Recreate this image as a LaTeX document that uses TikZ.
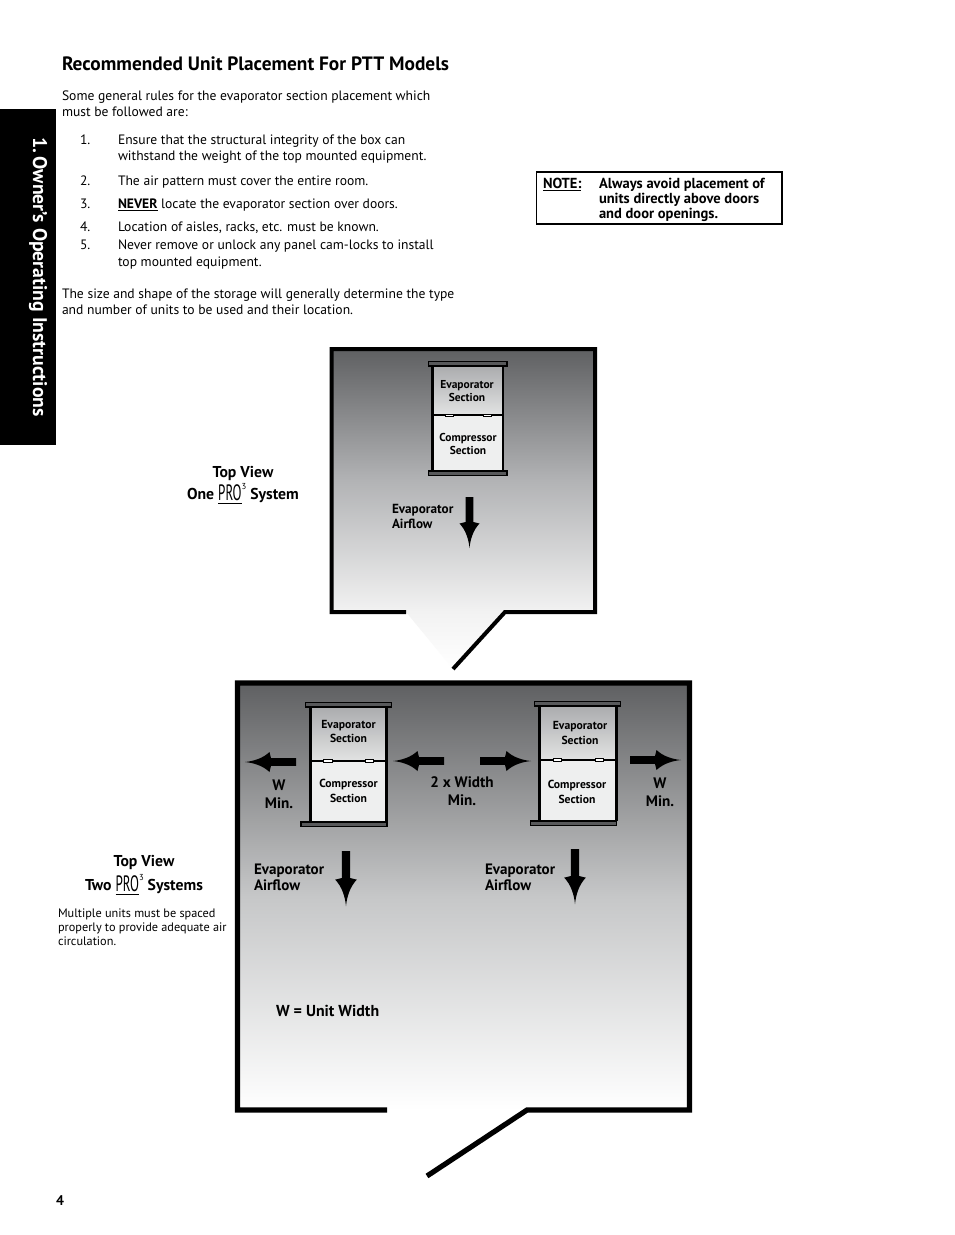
\documentclass[tikz,border=0pt]{standalone}
\usepackage{fontspec}
\usepackage{graphicx}
\setmainfont{PT Sans}
\definecolor{roomtop}{HTML}{5F6062}
\definecolor{roomamid}{HTML}{B2B3B5}
\definecolor{roombmid}{HTML}{C6C7C8}
\definecolor{barfill}{HTML}{58595B}
\definecolor{evaptop}{HTML}{ABACAE}
\definecolor{evapbot}{HTML}{E2E3E3}
\definecolor{compfill}{HTML}{EEEFEF}
\newcommand{\fsz}[2]{\fontsize{#1}{#2}\selectfont}
\newcommand{\ProLogo}{\raisebox{-0.8pt}{\underline{\scalebox{0.85}[1.45]{\normalfont\fsz{11.5pt}{12pt}PRO}}}\raisebox{7.5pt}{\fsz{6.5pt}{7pt}\normalfont 3}}
\newcommand{\drawunit}[9]{%
  \shade[top color=evaptop, bottom color=evapbot] (#1,#3) rectangle (#2,#4);
  \fill[compfill] (#1,#4) rectangle (#2,#5);
  \draw[unitline] (#1,#3) -- (#1,#5) (#2,#3) -- (#2,#5);
  \draw[unitline] (#1,#4) -- (#2,#4);
  \draw[barline] (#6,#3-4.5) rectangle (#7,#3);
  \draw[barline] (#8,#5) rectangle (#9,#5+4.5);
}
\tikzset{
  x=0.75pt,y=-0.75pt,
  lbl/.style={inner sep=0pt,outer sep=0pt},
  body/.style={lbl,anchor=base west,font=\fsz{10.2pt}{13pt}},
  notetext/.style={lbl,anchor=base west,font=\bfseries\fsz{10.9pt}{12pt}},
  unitline/.style={black,line width=2.2pt},
  barline/.style={draw=black,fill=barfill,line width=1.1pt},
  latch/.style={fill=white,draw=black,line width=0.3pt},
  wall/.style={black,line cap=butt,line join=miter},
  unittext/.style={lbl,align=center,font=\bfseries\fsz{8.6pt}{10pt}},
  unittextb/.style={lbl,align=center,font=\bfseries\fsz{8.75pt}{11.2pt}},
  minlabel/.style={lbl,align=center,font=\bfseries\fsz{11.4pt}{13.6pt}},
  air/.style={lbl,align=left,anchor=west},
  airarrow/.pic={
    \fill[black] (0,-3.8) -- (25,-3.8) -- (26.5,-10) .. controls (33,-3.8) and (42,-0.9) .. (51,0)
      .. controls (42,0.9) and (33,3.8) .. (26.5,10) -- (25,3.8) -- (0,3.8) -- cycle;
  }
}
\begin{document}
\begin{tikzpicture}
\useasboundingbox (0,0) rectangle (954,1235);
\fill[white] (0,0) rectangle (954,1235);

% side tab
\fill[black] (0,109) rectangle (56,445);
\node[lbl,rotate=-90,white,font=\bfseries\fsz{14.8pt}{15pt}] (tab) at (38,277) {1.\,Owner’s Operating Instructions};

% page text
\node[lbl,anchor=base west,font=\bfseries\fsz{14.5pt}{16pt}] (head) at (62,70) {Recommended Unit Placement For PTT Models};
\node[body] (t1) at (62,100) {Some general rules for the evaporator section placement which};
\node[body] (t2) at (62,116) {must be followed are:};
\node[body] (n1) at (80,144) {1.};
\node[body] (l1) at (118,144) {Ensure that the structural integrity of the box can};
\node[body] (l1b) at (118,160) {withstand the weight of the top mounted equipment.};
\node[body] (n2) at (80,185) {2.};
\node[body] (l2) at (118,185) {The air pattern must cover the entire room.};
\node[body] (n3) at (80,208) {3.};
\node[body] (l3) at (118,208) {\underline{\textbf{NEVER}} locate the evaporator section over doors.};
\node[body] (n4) at (80,231) {4.};
\node[body] (l4) at (118,231) {Location of aisles, racks, etc. must be known.};
\node[body] (n5) at (80,249) {5.};
\node[body] (l5) at (118,249) {Never remove or unlock any panel cam-locks to install};
\node[body] (l5b) at (118,266) {top mounted equipment.};
\node[body] (t3) at (62,298) {The size and shape of the storage will generally determine the type};
\node[body] (t4) at (62,314) {and number of units to be used and their location.};

% note
\draw[black,line width=1.1pt] (536.5,172) rectangle (782,224);
\node[notetext] (notek) at (543,188) {\underline{NOTE:}};
\node[notetext] (note1) at (599,188) {Always avoid placement of};
\node[notetext] (note2) at (599,203) {units directly above doors};
\node[notetext] (note3) at (599,218) {and door openings.};

% room 1
\shade[top color=roomtop,bottom color=white!95!black,middle color=roomamid] (331.5,349) rectangle (595,612);
\shade[top color=white!95!black,bottom color=white] (406,612) -- (505,612) -- (453,669) -- cycle;
\draw[wall,line width=3pt] (406,612) -- (331.5,612) -- (331.5,349) -- (595,349) -- (595,612) -- (505,612) -- (453,669);
\drawunit{432.5}{503}{366}{415}{471}{428.5}{507}{428.5}{507}
\fill[latch] (445,414) rectangle (453,416);
\fill[latch] (483,414) rectangle (491,416);
\node[unittext] (e1) at (467,391) {Evaporator\\Section};
\node[unittext] (c1) at (468,444) {Compressor\\Section};
\pic[rotate=-90] at (469.5,497) {airarrow};
\node[air,font=\bfseries\fsz{9.9pt}{11.3pt}] (a1) at (392,516.5) {Evaporator\\Airflow};
\node[lbl,align=center,font=\bfseries\fsz{11.8pt}{16.5pt}] (tv1) at (243,485) {Top View\\One \ProLogo{} System};

% room 2
\shade[top color=roomtop,bottom color=white,middle color=roombmid] (237.5,683) rectangle (689.5,1110);
\draw[wall,line width=3.9pt] (387,1110) -- (237.5,1110) -- (237.5,683) -- (689.5,683) -- (689.5,1110) -- (527,1110) -- (427,1176);
\drawunit{310.5}{386.5}{707}{761}{822}{305.5}{391.5}{301}{387}
\fill[latch] (323,759.5) rectangle (332,762.5);
\fill[latch] (365,759.5) rectangle (373,762.5);
\drawunit{539.5}{616.5}{706}{760}{821}{534.5}{620.5}{530.5}{616.5}
\fill[latch] (553,758.5) rectangle (561,761.5);
\fill[latch] (595,758.5) rectangle (603,761.5);
\node[unittextb] (e2) at (348.5,731.5) {Evaporator\\Section};
\node[unittextb] (c2) at (348.5,790.5) {Compressor\\Section};
\node[unittextb] (e3) at (580,733) {Evaporator\\Section};
\node[unittextb] (c3) at (577,791.5) {Compressor\\Section};
\pic[rotate=180] at (296,762) {airarrow};
\pic[rotate=180] at (444,761) {airarrow};
\pic at (480,761) {airarrow};
\pic at (630,760) {airarrow};
\pic[rotate=-90,scale=1.08] at (346,851) {airarrow};
\pic[rotate=-90,scale=1.08] at (575,849) {airarrow};
\node[minlabel] (w1) at (279,794) {W\\Min.};
\node[minlabel] (w2) at (462,791.5) {2 x Width\\Min.};
\node[minlabel] (w3) at (660,792) {W\\Min.};
\node[air,font=\bfseries\fsz{11.3pt}{12pt}] (a2) at (254,877) {Evaporator\\Airflow};
\node[air,font=\bfseries\fsz{11.3pt}{12pt}] (a3) at (485,877) {Evaporator\\Airflow};
\node[lbl,anchor=base west,font=\bfseries\fsz{11.9pt}{13pt}] (wdef) at (276,1016) {W = Unit Width};
\node[lbl,align=center,font=\bfseries\fsz{11.8pt}{18pt}] (tv2) at (144,875) {Top View\\Two \ProLogo{} Systems};
\node[lbl,align=left,anchor=north west,font=\fsz{9.2pt}{10.5pt}] (multi) at (58,908.5) {Multiple units must be spaced\\properly to provide adequate air\\circulation.};
\node[lbl,anchor=base west,font=\bfseries\fsz{10.5pt}{12pt}] (page) at (56,1205) {4};
\end{tikzpicture}
\end{document}
